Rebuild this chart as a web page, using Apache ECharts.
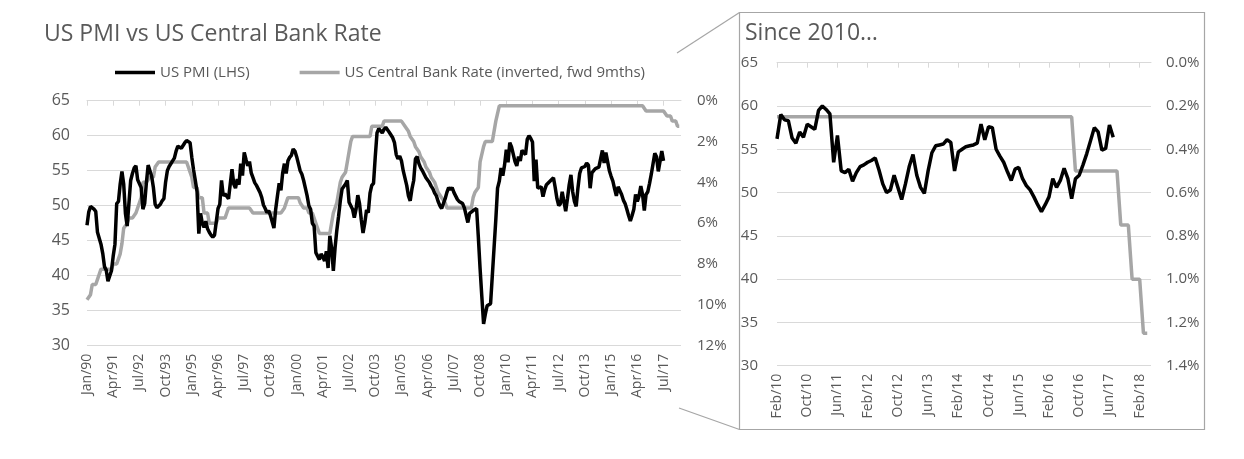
<!DOCTYPE html>
<html><head><meta charset="utf-8">
<script src="https://cdn.jsdelivr.net/npm/echarts@6/dist/echarts.min.js"></script>
<style>html,body{margin:0;padding:0;background:#fff}#c{width:1244px;height:459px}</style>
</head><body><div id="c"></div>
<script>
// US PMI, monthly, Jan 1990 - Jul 2017
const pmi = [
47.2,49.1,49.9,50.0,49.5,49.2,46.2,46.1,44.5,43.2,41.3,40.8,
39.2,39.4,40.7,42.8,44.5,50.3,50.6,53.1,54.9,53.1,48.9,47.1,
47.3,53.6,54.6,55.4,55.7,53.7,53.5,52.6,49.5,50.3,53.3,55.8,
55.8,54.2,52.6,50.2,49.7,49.6,50.2,50.7,51.0,53.4,55.0,55.6,
56.0,56.4,56.8,57.8,58.5,58.6,58.2,58.3,59.0,59.3,59.4,59.0,
56.9,55.1,53.6,52.0,46.0,48.9,47.5,46.9,47.8,46.7,46.2,45.8,
45.5,45.8,47.7,49.6,50.2,53.6,51.4,51.7,51.7,51.0,53.1,55.2,
53.1,52.5,53.8,53.0,56.0,54.3,57.6,56.6,55.7,56.3,54.7,54.0,
53.3,52.9,52.9,51.9,51.2,50.1,49.6,49.0,49.3,48.6,48.4,46.8,
49.5,51.4,53.2,52.2,54.7,56.0,54.6,56.4,56.9,57.2,58.1,57.8,
57.0,56.0,55.0,54.5,53.6,52.5,51.4,50.0,49.5,47.5,47.1,43.3,
42.8,42.3,43.1,42.7,42.1,43.5,41.1,45.7,44.0,40.7,44.0,46.5,
48.5,50.7,52.4,52.4,53.1,53.6,50.5,50.3,49.5,48.3,49.5,51.5,
50.3,48.0,46.1,47.5,49.4,49.0,51.8,52.9,53.2,57.0,60.4,61.0,
60.9,60.4,60.9,61.2,61.4,60.5,60.3,59.7,59.0,57.3,56.7,57.1,
56.4,55.0,55.2,52.9,51.4,50.7,52.4,53.6,56.7,57.0,56.0,55.4,
55.0,54.5,54.0,53.8,53.3,52.8,52.4,51.8,51.4,50.6,50.0,49.6,
49.6,51.0,51.9,52.6,52.3,52.6,51.9,51.4,50.9,50.6,50.4,50.3,
49.7,49.5,47.6,48.9,49.0,49.3,49.3,49.6,45.5,41.0,37.0,33.1,
34.5,35.7,35.8,36.0,40.0,44.0,48.0,52.5,53.5,55.4,54.3,55.8,
58.0,56.2,59.0,58.4,58.3,56.3,55.7,57.0,56.4,57.9,57.6,57.3,
59.5,60.0,59.6,59.1,53.5,56.6,52.5,52.3,52.7,51.3,52.3,53.0,
53.2,53.5,53.7,54.0,52.6,51.0,50.0,50.3,52.0,50.6,49.2,51.0,
53.0,54.4,52.0,50.6,49.9,52.5,54.6,55.4,55.5,55.6,56.1,55.8,
52.5,54.7,55.0,55.3,55.4,55.5,55.7,57.9,56.1,57.6,57.5,55.0,
54.2,53.5,52.4,51.4,52.7,52.9,51.6,50.8,50.3,49.5,48.6,47.8,
48.6,49.5,51.6,50.6,51.4,52.8,51.6,49.3,51.6,52.0,53.2,54.5,
56.0,57.5,57.0,54.9,55.1,57.8,56.4
];
// US central bank rate (%), shifted forward 9 months, monthly Jan 1990 - Apr 2018
const rate = [
9.75,9.75,9.5,9.0,9.0,9.0,8.75,8.5,8.25,8.25,8.25,8.25,
8.25,8.25,8.25,8.0,8.0,8.0,7.75,7.5,7.0,6.25,6.25,6.0,
5.75,5.75,5.75,5.75,5.5,5.25,5.0,4.75,4.0,4.0,4.0,4.0,
3.75,3.75,3.75,3.25,3.25,3.0,3.0,3.0,3.0,3.0,3.0,3.0,
3.0,3.0,3.0,3.0,3.0,3.0,3.0,3.0,3.0,3.0,3.25,3.5,
3.75,4.25,4.25,4.25,4.75,4.75,4.75,5.5,5.5,5.5,6.0,6.0,
6.0,6.0,6.0,5.75,5.75,5.75,5.75,5.75,5.5,5.25,5.25,5.25,
5.25,5.25,5.25,5.25,5.25,5.25,5.25,5.25,5.25,5.25,5.25,5.5,
5.5,5.5,5.5,5.5,5.5,5.5,5.5,5.5,5.5,5.5,5.5,5.5,
5.5,5.5,5.5,5.5,5.5,5.25,5.0,4.75,4.75,4.75,4.75,4.75,
4.75,4.75,5.0,5.0,5.25,5.25,5.25,5.5,5.5,5.5,5.75,6.0,
6.0,6.5,6.5,6.5,6.5,6.5,6.5,6.5,6.5,5.5,5.5,5.0,
4.5,4.0,3.75,3.75,3.5,3.0,2.5,2.0,1.75,1.75,1.75,1.75,
1.75,1.75,1.75,1.75,1.75,1.75,1.75,1.25,1.25,1.25,1.25,1.25,
1.25,1.25,1.0,1.0,1.0,1.0,1.0,1.0,1.0,1.0,1.0,1.0,
1.0,1.0,1.25,1.25,1.5,1.75,1.75,2.0,2.25,2.25,2.5,2.75,
2.75,3.0,3.25,3.25,3.5,3.75,3.75,4.0,4.25,4.5,4.5,4.75,
4.75,5.0,5.25,5.25,5.25,5.25,5.25,5.25,5.25,5.25,5.25,5.25,
5.25,5.25,5.25,5.25,5.25,4.75,4.5,4.5,4.25,3.0,3.0,2.25,
2.0,2.0,2.0,2.0,2.0,2.0,1.0,1.0,0.25,0.25,0.25,0.25,
0.25,0.25,0.25,0.25,0.25,0.25,0.25,0.25,0.25,0.25,0.25,0.25,
0.25,0.25,0.25,0.25,0.25,0.25,0.25,0.25,0.25,0.25,0.25,0.25,
0.25,0.25,0.25,0.25,0.25,0.25,0.25,0.25,0.25,0.25,0.25,0.25,
0.25,0.25,0.25,0.25,0.25,0.25,0.25,0.25,0.25,0.25,0.25,0.25,
0.25,0.25,0.25,0.25,0.25,0.25,0.25,0.25,0.25,0.25,0.25,0.25,
0.25,0.25,0.25,0.25,0.25,0.25,0.25,0.25,0.25,0.25,0.25,0.25,
0.25,0.25,0.25,0.25,0.25,0.25,0.25,0.25,0.5,0.5,0.5,0.5,
0.5,0.5,0.5,0.5,0.5,0.5,0.5,0.5,0.75,0.75,0.75,1.0,
1.0,1.0,1.25,1.25
];
const monthNames = ['Jan','Feb','Mar','Apr','May','Jun','Jul','Aug','Sep','Oct','Nov','Dec'];
const firstYear = 1990, lastYear = 2018, lastMonth = 5; // axis runs Jan/90 .. May/18
const months = [];
for (let y = firstYear; y <= lastYear; y++) {
  for (let m = 0; m < 12; m++) {
    if (y === lastYear && m >= lastMonth) break;
    months.push(monthNames[m] + '/' + String(y).slice(2));
  }
}
const zoomStart = months.indexOf('Feb/10');
const pmiTitle = 'US PMI (LHS)';
const rateTitle = 'US Central Bank Rate (inverted, fwd 9mths)';

const FONT = 'Open Sans';
const TXT = '#595959';
const GRID = '#d9d9d9';
const BLACK = '#000000';
const GREY = '#a6a6a6';

const chart = echarts.init(document.getElementById('c'), null, {renderer: 'canvas'});
const xCommon = (interval) => ({
  type: 'category', boundaryGap: false,
  axisLine: {show: true, lineStyle: {color: GRID, width: 1}},
  axisTick: {show: true, interval: interval, length: 5, lineStyle: {color: GRID}},
  axisLabel: {rotate: 90, interval: interval, color: TXT, fontFamily: FONT, fontSize: 14, margin: 8},
  splitLine: {show: false}
});
chart.setOption({
  animation: false,
  backgroundColor: '#ffffff',
  textStyle: {fontFamily: FONT},
  title: [
    {text: 'US PMI vs US Central Bank Rate', left: 39, top: 18,
     textStyle: {color: TXT, fontFamily: FONT, fontSize: 23, fontWeight: 'normal'}},
    {text: 'Since 2010…', left: 740, top: 17,
     textStyle: {color: TXT, fontFamily: FONT, fontSize: 23, fontWeight: 'normal'}}
  ],
  legend: {
    left: 110, top: 60, itemWidth: 40, itemHeight: 3.5, itemGap: 50, icon: 'rect',
    textStyle: {color: TXT, fontFamily: FONT, fontSize: 15},
    data: [pmiTitle, rateTitle]
  },
  grid: [
    {left: 87, top: 100.7, width: 594, height: 245},
    {left: 777, top: 62.7, width: 374, height: 303}
  ],
  xAxis: [
    Object.assign(xCommon(14), {gridIndex: 0, data: months}),
    Object.assign(xCommon(7), {gridIndex: 1, data: months.slice(zoomStart)})
  ],
  yAxis: [
    {gridIndex: 0, type: 'value', min: 30, max: 65, interval: 5,
     axisLine: {show: false}, axisTick: {show: false},
     axisLabel: {color: TXT, fontFamily: FONT, fontSize: 16, margin: 17},
     splitLine: {lineStyle: {color: GRID, width: 1}}},
    {gridIndex: 0, type: 'value', min: 0, max: 12, interval: 2, inverse: true, position: 'right',
     axisLine: {show: false}, axisTick: {show: false},
     axisLabel: {color: TXT, fontFamily: FONT, fontSize: 15, margin: 16, formatter: '{value}%'},
     splitLine: {show: false}},
    {gridIndex: 1, type: 'value', min: 30, max: 65, interval: 5,
     axisLine: {show: false}, axisTick: {show: false},
     axisLabel: {color: TXT, fontFamily: FONT, fontSize: 15, margin: 19},
     splitLine: {lineStyle: {color: GRID, width: 1}}},
    {gridIndex: 1, type: 'value', min: 0, max: 1.4, interval: 0.2, inverse: true, position: 'right',
     axisLine: {show: false}, axisTick: {show: false},
     axisLabel: {color: TXT, fontFamily: FONT, fontSize: 15, margin: 15,
       formatter: v => v.toFixed(1) + '%'},
     splitLine: {show: false}}
  ],
  series: [
    {name: rateTitle, type: 'line', xAxisIndex: 0, yAxisIndex: 1, data: rate,
     showSymbol: false, lineStyle: {color: GREY, width: 3.5}, itemStyle: {color: GREY}, z: 2},
    {name: pmiTitle, type: 'line', xAxisIndex: 0, yAxisIndex: 0, data: pmi,
     showSymbol: false, lineStyle: {color: BLACK, width: 3.5}, itemStyle: {color: BLACK}, z: 3},
    {name: rateTitle, type: 'line', xAxisIndex: 1, yAxisIndex: 3, data: rate.slice(zoomStart),
     showSymbol: false, lineStyle: {color: GREY, width: 3.5}, itemStyle: {color: GREY}, z: 2},
    {name: pmiTitle, type: 'line', xAxisIndex: 1, yAxisIndex: 2, data: pmi.slice(zoomStart),
     showSymbol: false, lineStyle: {color: BLACK, width: 3.5}, itemStyle: {color: BLACK}, z: 3}
  ],
  graphic: [
    {type: 'rect', shape: {x: 739.5, y: 12.5, width: 465, height: 417},
     style: {fill: 'none', stroke: '#a6a6a6', lineWidth: 1.2}, silent: true},
    {type: 'line', shape: {x1: 677, y1: 53, x2: 739.5, y2: 12.5},
     style: {stroke: '#a6a6a6', lineWidth: 1.2}, silent: true},
    {type: 'line', shape: {x1: 679, y1: 408, x2: 739.5, y2: 429.5},
     style: {stroke: '#a6a6a6', lineWidth: 1.2}, silent: true}
  ]
});
</script></body></html>
